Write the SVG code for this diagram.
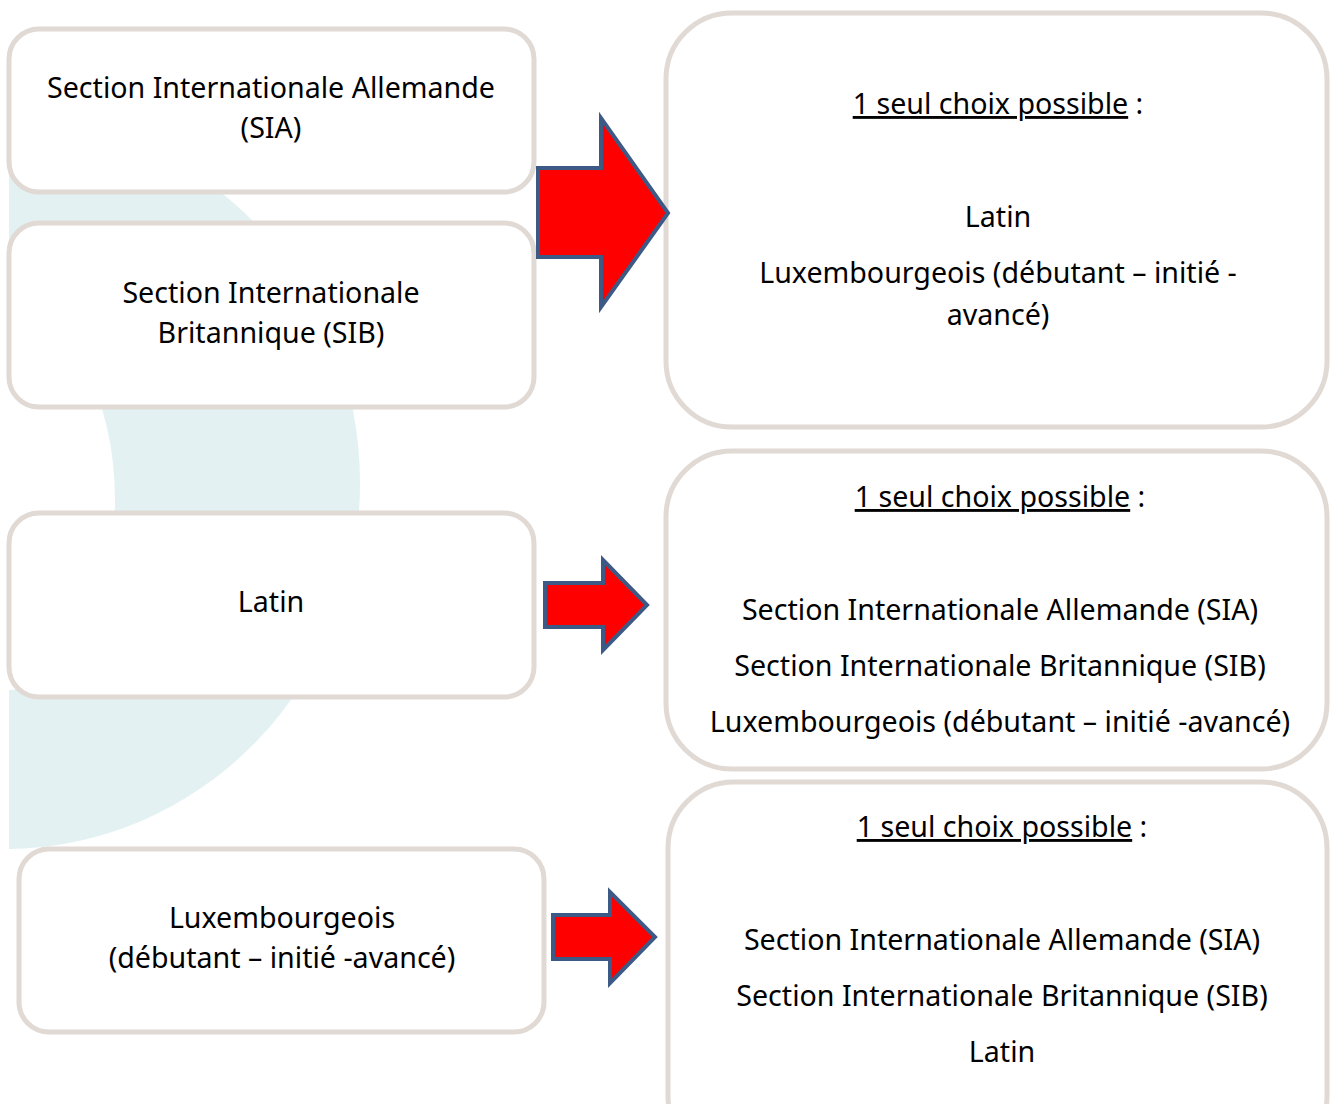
<svg xmlns="http://www.w3.org/2000/svg" width="1330" height="1104" viewBox="0 0 1330 1104">
<defs>
<clipPath id="bgclip"><rect x="9" y="0" width="500" height="850"/></clipPath>
<style>
.box{fill:#ffffff;stroke:#e0d9d4;stroke-width:5}
.arrow{fill:#ff0000;stroke:#3d5a87;stroke-width:4;stroke-linejoin:miter}
.t{font-family:"Noto Sans","Open Sans",sans-serif;font-size:28.6px;fill:#000000;text-anchor:middle}
</style>
</defs>
<rect x="0" y="0" width="1330" height="1104" fill="#ffffff"/>
<g id="background" clip-path="url(#bgclip)">
<ellipse cx="5" cy="483" rx="355" ry="366" fill="#e3f1f3"/>
<ellipse cx="9" cy="500" rx="106" ry="190" fill="#ffffff"/>
</g>
<g id="node-sia">
<rect class="box" x="9" y="29" width="525" height="163" rx="30"/>
<text class="t" x="271" y="98">Section Internationale Allemande</text>
<text class="t" x="271" y="138">(SIA)</text>
</g>
<g id="node-sib">
<rect class="box" x="9" y="223" width="525" height="184" rx="30"/>
<text class="t" x="271" y="303">Section Internationale</text>
<text class="t" x="271" y="343">Britannique (SIB)</text>
</g>
<g id="node-latin">
<rect class="box" x="9" y="513" width="525" height="184" rx="30"/>
<text class="t" x="271" y="612">Latin</text>
</g>
<g id="node-lux">
<rect class="box" x="19" y="849" width="525" height="183" rx="30"/>
<text class="t" x="282" y="928">Luxembourgeois</text>
<text class="t" x="282" y="968">(débutant – initié -avancé)</text>
</g>
<g id="node-choice1">
<rect class="box" x="666" y="13" width="661" height="414" rx="66"/>
<text class="t" x="998" y="114"><tspan text-decoration="underline">1 seul choix possible</tspan> :</text>
<text class="t" x="998" y="227">Latin</text>
<text class="t" x="998" y="283">Luxembourgeois (débutant – initié -</text>
<text class="t" x="998" y="325">avancé)</text>
</g>
<g id="node-choice2">
<rect class="box" x="666" y="451" width="661" height="318" rx="66"/>
<text class="t" x="1000" y="507"><tspan text-decoration="underline">1 seul choix possible</tspan> :</text>
<text class="t" x="1000" y="620">Section Internationale Allemande (SIA)</text>
<text class="t" x="1000" y="676">Section Internationale Britannique (SIB)</text>
<text class="t" x="1000" y="732">Luxembourgeois (débutant – initié -avancé)</text>
</g>
<g id="node-choice3">
<rect class="box" x="668" y="782" width="659" height="380" rx="66"/>
<text class="t" x="1002" y="837"><tspan text-decoration="underline">1 seul choix possible</tspan> :</text>
<text class="t" x="1002" y="950">Section Internationale Allemande (SIA)</text>
<text class="t" x="1002" y="1006">Section Internationale Britannique (SIB)</text>
<text class="t" x="1002" y="1062">Latin</text>
</g>
<g id="connectors">
<polygon class="arrow" points="538,168 601,168 601,118 668,213 601,307 601,257 538,257"/>
<polygon class="arrow" points="545,583 603,583 603,560 647,605 603,650 603,627 545,627"/>
<polygon class="arrow" points="553,915 610,915 610,892 655,937 610,983 610,959 553,959"/>
</g>
</svg>
